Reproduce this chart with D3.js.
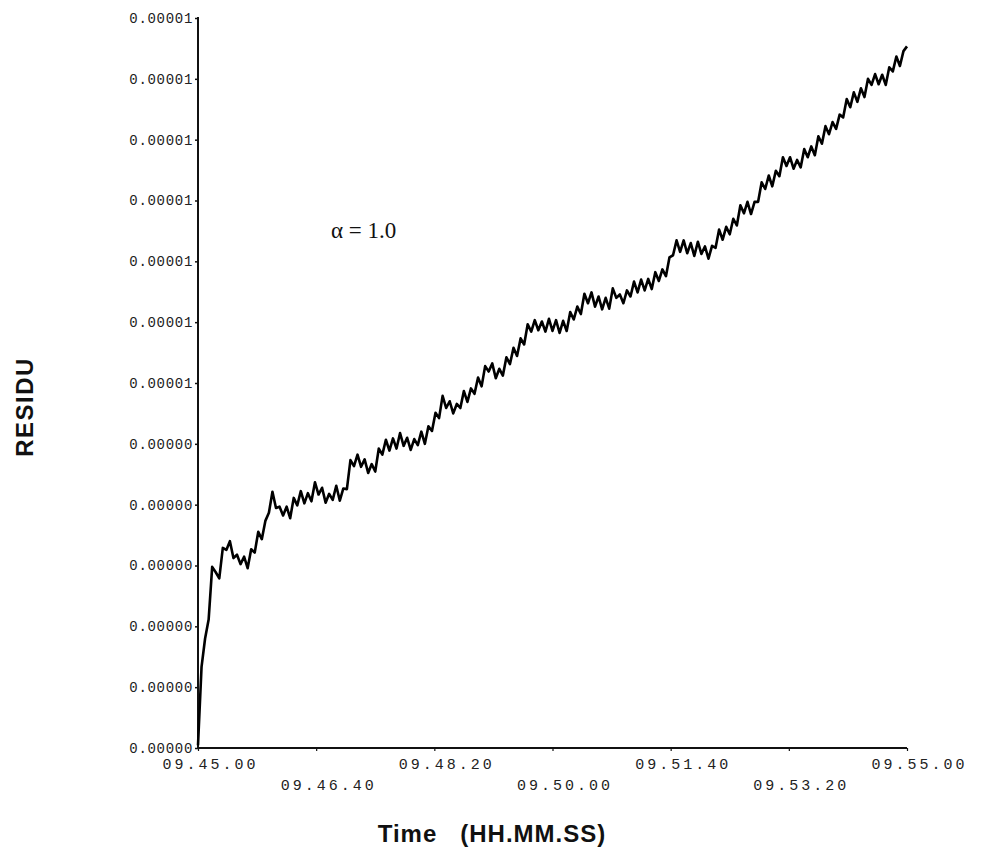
<!DOCTYPE html>
<html>
<head>
<meta charset="utf-8">
<script src="https://cdn.jsdelivr.net/npm/d3@7/dist/d3.min.js"></script>
<style>
  html, body { margin: 0; padding: 0; background: #fff; }
  svg { display: block; }
</style>
</head>
<body>
<svg id="chart" width="984" height="853"></svg>
<script>
// ---- data ----
// time in seconds after 09.45.00
const timeSec = [0,3,6,9,12,15,18,21,24,27,30,33,36,39,42,45,48,51,54,57,60,63,66,69,72,75,78,81,84,87,90,93,96,99,102,105,108,111,114,117,120,123,126,129,132,135,138,141,144,147,150,153,156,159,162,165,168,171,174,177,180,183,186,189,192,195,198,201,204,207,210,213,216,219,222,225,228,231,234,237,240,243,246,249,252,255,258,261,264,267,270,273,276,279,282,285,288,291,294,297,300,303,306,309,312,315,318,321,324,327,330,333,336,339,342,345,348,351,354,357,360,363,366,369,372,375,378,381,384,387,390,393,396,399,402,405,408,411,414,417,420,423,426,429,432,435,438,441,444,447,450,453,456,459,462,465,468,471,474,477,480,483,486,489,492,495,498,501,504,507,510,513,516,519,522,525,528,531,534,537,540,543,546,549,552,555,558,561,564,567,570,573,576,579,582,585,588,591,594,597,600];
// residual in units of 1e-6
const residu = [0.04,1.20,1.62,1.90,2.68,2.60,2.51,2.96,2.93,3.06,2.81,2.86,2.72,2.83,2.66,2.94,2.89,3.20,3.09,3.36,3.48,3.79,3.55,3.57,3.44,3.57,3.40,3.70,3.59,3.80,3.62,3.77,3.65,3.93,3.75,3.85,3.63,3.76,3.67,3.88,3.66,3.84,3.83,4.26,4.17,4.34,4.16,4.27,4.07,4.20,4.09,4.43,4.34,4.56,4.40,4.58,4.43,4.66,4.47,4.59,4.41,4.57,4.48,4.68,4.50,4.76,4.69,4.96,4.88,5.21,5.03,5.13,4.95,5.09,5.03,5.28,5.12,5.32,5.24,5.48,5.35,5.65,5.57,5.69,5.47,5.61,5.51,5.78,5.68,5.92,5.80,6.06,5.97,6.27,6.16,6.33,6.18,6.31,6.16,6.35,6.17,6.33,6.14,6.32,6.17,6.45,6.34,6.53,6.42,6.72,6.58,6.74,6.53,6.68,6.49,6.66,6.50,6.80,6.66,6.71,6.58,6.77,6.68,6.90,6.74,6.93,6.77,6.94,6.79,7.04,6.91,7.08,6.98,7.26,7.29,7.51,7.34,7.51,7.32,7.47,7.28,7.49,7.31,7.42,7.24,7.43,7.40,7.67,7.52,7.71,7.60,7.83,7.73,8.03,7.91,8.08,7.90,8.08,8.08,8.37,8.27,8.47,8.31,8.54,8.46,8.74,8.61,8.74,8.57,8.70,8.59,8.86,8.74,8.90,8.77,9.05,8.94,9.20,9.08,9.26,9.16,9.37,9.33,9.60,9.48,9.70,9.56,9.76,9.63,9.90,9.81,9.97,9.82,9.96,9.81,10.07,10.01,10.23,10.09,10.31,10.38];

const yTickValues = [0,0.9,1.8,2.7,3.6,4.5,5.4,6.3,7.2,8.1,9.0,9.9,10.8];
const yTickLabels = ["0.00000","0.00000","0.00000","0.00000","0.00000","0.00000","0.00001","0.00001","0.00001","0.00001","0.00001","0.00001","0.00001"];
const xTickValues = [0,100,200,300,400,500,600];
const xTickLabels = ["09.45.00","09.46.40","09.48.20","09.50.00","09.51.40","09.53.20","09.55.00"];

const yTitle = "RESIDU";
const xTitle = "Time   (HH.MM.SS)";
const note = "\u03b1 = 1.0";

// ---- drawing ----
const svg = d3.select("#chart");
const x = d3.scaleLinear().domain([0, 600]).range([198, 907]);
const y = d3.scaleLinear().domain([0, 10.8]).range([748, 18]);

// y axis
const yAxis = d3.axisLeft(y).tickValues(yTickValues)
  .tickFormat((d, i) => yTickLabels[i]).tickSize(3).tickPadding(2);
const gy = svg.append("g").attr("transform", "translate(198,0)").call(yAxis);
gy.select(".domain").attr("stroke", "#111").attr("stroke-width", 2).attr("d", "M0,17V748");
gy.selectAll(".tick line").attr("stroke", "#111").attr("stroke-width", 1.5);
gy.selectAll(".tick text")
  .attr("font-family", "'Liberation Mono', 'DejaVu Sans Mono', monospace")
  .attr("font-size", 14).attr("letter-spacing", "0.7px").attr("fill", "#222");

// x axis
const xAxis = d3.axisBottom(x).tickValues(xTickValues)
  .tickFormat((d, i) => xTickLabels[i]).tickSize(3);
const gx = svg.append("g").attr("transform", "translate(0,748)").call(xAxis);
gx.select(".domain").attr("stroke", "#111").attr("stroke-width", 2).attr("d", "M198,0H907");
gx.selectAll(".tick line").attr("stroke", "#111").attr("stroke-width", 1.2);
gx.selectAll(".tick text")
  .attr("font-family", "'Liberation Mono', 'DejaVu Sans Mono', monospace")
  .attr("font-size", 15).attr("letter-spacing", "3px").attr("fill", "#222")
  .attr("dx", 12)
  .attr("y", (d, i) => i % 2 === 0 ? 16 : 37)
  .attr("dy", "0.3em");

// line
const data = timeSec.map((t, i) => [t, residu[i]]);
svg.append("path").datum(data)
  .attr("fill", "none").attr("stroke", "#000").attr("stroke-width", 2.6)
  .attr("stroke-linejoin", "round")
  .attr("d", d3.line().x(d => x(d[0])).y(d => y(d[1])));

// titles
svg.append("text").attr("transform", "translate(33,407) rotate(-90)")
  .attr("text-anchor", "middle")
  .attr("font-family", "'Liberation Sans', Arial, sans-serif").attr("font-weight", "bold")
  .attr("font-size", 24).attr("letter-spacing", "1.5px").attr("fill", "#111")
  .text(yTitle);

svg.append("text").attr("x", 492).attr("y", 842)
  .attr("text-anchor", "middle").style("white-space", "pre")
  .attr("font-family", "'Liberation Sans', Arial, sans-serif").attr("font-weight", "bold")
  .attr("font-size", 24).attr("letter-spacing", "1px").attr("fill", "#111")
  .text(xTitle);

svg.append("text").attr("x", 331).attr("y", 238)
  .attr("font-family", "'Liberation Serif', 'Times New Roman', serif")
  .attr("font-size", 23).attr("fill", "#111")
  .text(note);
</script>
</body>
</html>
